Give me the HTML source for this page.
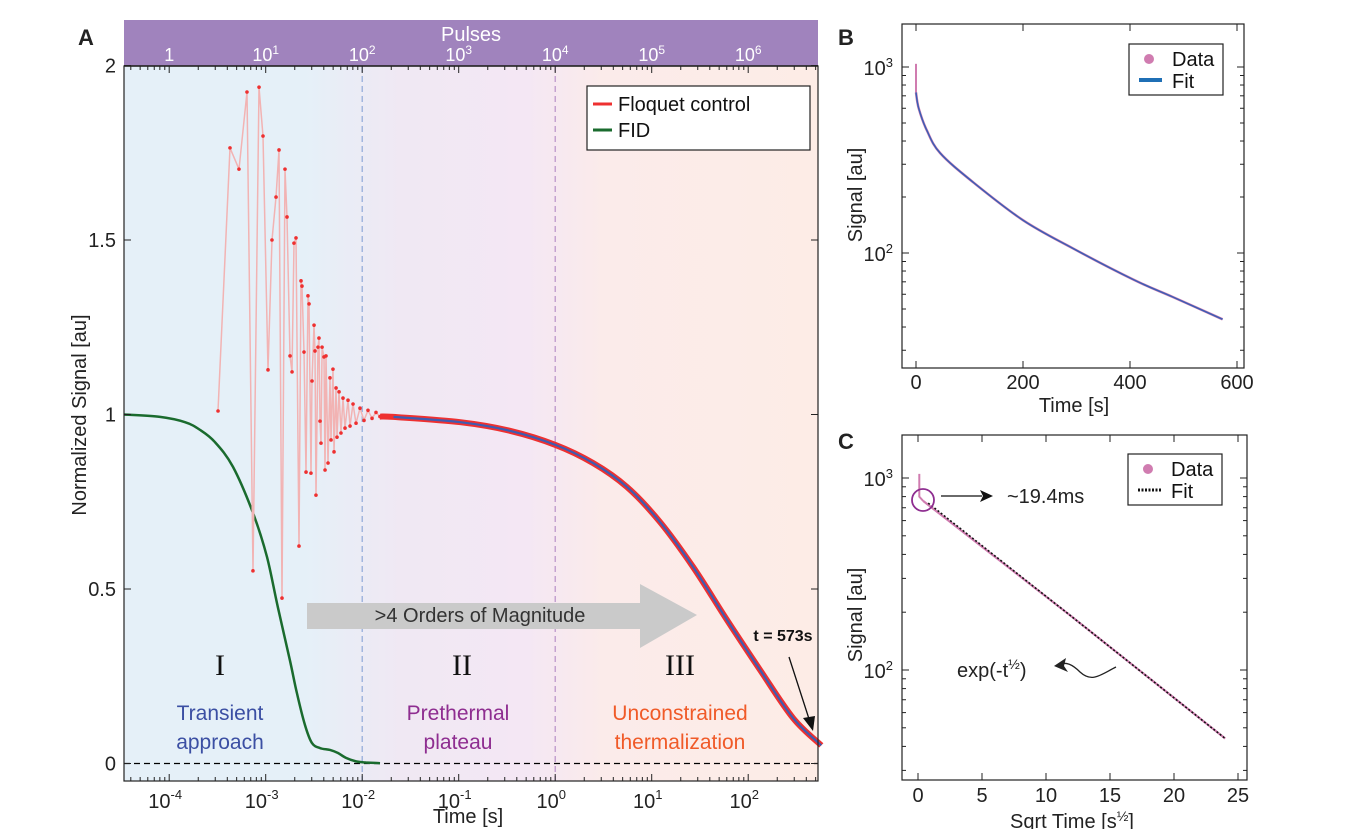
<!DOCTYPE html>
<html><head><meta charset="utf-8"><style>
html,body{margin:0;padding:0;background:#fff}
svg{display:block;font-family:"Liberation Sans",sans-serif}
</style></head><body>
<svg id="fig" width="1350" height="829" viewBox="0 0 1350 829" xmlns="http://www.w3.org/2000/svg">
<defs>
<linearGradient id="bgA" gradientUnits="userSpaceOnUse" x1="124" y1="0" x2="818" y2="0">
<stop offset="0" stop-color="#e5f0f8"/><stop offset="0.26" stop-color="#e5f0f8"/>
<stop offset="0.40" stop-color="#f0e8f3"/><stop offset="0.58" stop-color="#f4e7f4"/>
<stop offset="0.69" stop-color="#fbebea"/><stop offset="1" stop-color="#fdece6"/>
</linearGradient>
</defs>
<g id="panelA"></g>
<g id="panelB"></g>
<g id="panelC"></g>
</svg>
<script>
// ---- Panel A data ----
const floqLogT = [-3.494,-3.370,-3.277,-3.194,-3.132,-3.069,-3.028,-2.976,-2.935,-2.893,-2.862,-2.831,-2.800,-2.779,-2.748,-2.727,-2.707,-2.686,-2.655,-2.634,-2.624,-2.603,-2.582,-2.562,-2.551,-2.531,-2.520,-2.499,-2.489,-2.479,-2.458,-2.448,-2.437,-2.427,-2.416,-2.396,-2.385,-2.375,-2.354,-2.334,-2.323,-2.303,-2.292,-2.271,-2.261,-2.240,-2.220,-2.199,-2.178,-2.147,-2.126,-2.095,-2.064,-2.023,-1.981,-1.940,-1.898,-1.857,-1.816];
const floqVal = [1.010,1.764,1.703,1.924,0.552,1.938,1.798,1.128,1.500,1.623,1.758,0.474,1.703,1.566,1.168,1.122,1.491,1.506,0.623,1.383,1.368,1.179,0.835,1.340,1.317,0.832,1.096,1.256,1.182,0.769,1.193,1.219,0.981,0.918,1.193,1.165,0.841,1.168,0.861,1.105,0.927,1.130,0.893,1.076,0.935,1.065,0.947,1.047,0.961,1.041,0.967,1.030,0.975,1.018,0.983,1.012,0.989,1.006,0.994];
const decayLogT = [-1.816,-1.676,-0.982,-0.464,0.002,0.392,0.745,1.086,1.429,1.781,2.123,2.465,2.758];
const decayVal = [0.994,0.993,0.978,0.953,0.913,0.861,0.792,0.692,0.563,0.411,0.268,0.130,0.052];
const fidLogT = [-4.468,-4.095,-3.836,-3.681,-3.526,-3.339,-3.132,-2.987,-2.873,-2.750,-2.677,-2.593,-2.521,-2.437,-2.334,-2.251,-2.168,-2.064,-1.961,-1.816];
const fidVal = [1.000,0.993,0.978,0.956,0.921,0.850,0.718,0.592,0.446,0.297,0.202,0.110,0.059,0.044,0.039,0.030,0.016,0.006,0.003,0.001];
const aYTicks = [0,0.5,1,1.5,2];
const aYTickLabels = ["0","0.5","1","1.5","2"];
const aXDecades = [-4,-3,-2,-1,0,1,2];
const pulseDecades = [0,1,2,3,4,5,6];
// ---- Panel B data ----
const bTime = [0,5,20,45,107,200,293,406,480,573];
const bSignal = [730,600,458,345,240,150,106,72,58,44];
const bSpikeSignal = [1040,730];
const bXTicks = [0,200,400,600];
// ---- Panel C data ----
const cSqrtT = [0.4,12,24];
const cSignal = [760,190,44];
const cSpikeSqrtT = [0.1,0.1,0.4];
const cSpikeSignal = [1050,800,760];
const cXTicks = [0,5,10,15,20,25];

const NS='http://www.w3.org/2000/svg';
function mk(parent,tag,attrs,text){const e=document.createElementNS(NS,tag);for(const k in attrs)e.setAttribute(k,attrs[k]);if(text!==undefined)e.textContent=text;parent.appendChild(e);return e;}
function smooth(pts){
  let d='M'+pts[0][0].toFixed(1)+' '+pts[0][1].toFixed(1);
  for(let i=0;i<pts.length-1;i++){
    const p0=pts[Math.max(i-1,0)],p1=pts[i],p2=pts[i+1],p3=pts[Math.min(i+2,pts.length-1)];
    const c1x=p1[0]+(p2[0]-p0[0])/6,c1y=p1[1]+(p2[1]-p0[1])/6;
    const c2x=p2[0]-(p3[0]-p1[0])/6,c2y=p2[1]-(p3[1]-p1[1])/6;
    d+=' C'+c1x.toFixed(1)+' '+c1y.toFixed(1)+' '+c2x.toFixed(1)+' '+c2y.toFixed(1)+' '+p2[0].toFixed(1)+' '+p2[1].toFixed(1);
  }
  return d;
}

// ===== Panel A =====
const A=document.getElementById('panelA');
const AX0=124,AX1=818,AY0=66,AY1=781;
const ax=l=>362.2+(l+2)*96.5;
const ay=v=>763.5-v*349;
let r=mk(A,'rect',{x:AX0,y:AY0,width:AX1-AX0,height:AY1-AY0,fill:'url(#bgA)'});


let pb=mk(A,'rect',{x:AX0,y:20,width:AX1-AX0,height:46,fill:'#a083bd'});


let pt=mk(A,'text',{x:471,y:41,'font-size':20,fill:'#fff','text-anchor':'middle'},'Pulses');


pulseDecades.forEach(d=>{
  const x=ax(d-4);
  const t=mk(A,'text',{x:x,y:61,'font-size':18,fill:'#fff','text-anchor':'middle'});
  
  
  if(d===0){t.textContent='1';}else{mk(t,'tspan',{},'10');mk(t,'tspan',{dy:-7,'font-size':12},String(d));}
});
let d1=mk(A,'line',{x1:ax(-2),x2:ax(-2),y1:AY0,y2:AY1,stroke:'#8fa8d8','stroke-width':1.2,'stroke-dasharray':'6,4'});


let d2=mk(A,'line',{x1:ax(0),x2:ax(0),y1:AY0,y2:AY1,stroke:'#b890c8','stroke-width':1.2,'stroke-dasharray':'6,4'});


let z0=mk(A,'line',{x1:AX0,x2:AX1,y1:ay(0),y2:ay(0),stroke:'#000','stroke-width':1.2,'stroke-dasharray':'6,4'});


let ar=mk(A,'path',{d:'M307 603 L640 603 L640 584 L697 615 L640 648 L640 629 L307 629 Z',fill:'#cacaca'});


let at=mk(A,'text',{x:480,y:622,'font-size':20,fill:'#333','text-anchor':'middle'},'>4 Orders of Magnitude');


[['I',220,'region-i-numeral'],['II',462,'region-ii-numeral'],['III',680,'region-iii-numeral']].forEach(a=>{
  const t=mk(A,'text',{x:a[1],y:675,'font-size':30,'font-family':'Liberation Serif, serif',fill:'#111','text-anchor':'middle'},a[0]);
  
  
});
[['Transient','approach',220,'#3b4fa3','region-i-label'],['Prethermal','plateau',458,'#8e2d90','region-ii-label'],['Unconstrained','thermalization',680,'#f05a28','region-iii-label']].forEach(a=>{
  const t=mk(A,'text',{'font-size':21,fill:a[3],'text-anchor':'middle'});
  
  
  mk(t,'tspan',{x:a[2],y:720},a[0]);mk(t,'tspan',{x:a[2],y:749},a[1]);
});
let fl=mk(A,'path',{d:smooth(fidLogT.map((l,i)=>[ax(l),ay(fidVal[i])])),fill:'none',stroke:'#1a6b2e','stroke-width':2.5});


let op=floqLogT.map((l,i)=>ax(l).toFixed(1)+','+ay(floqVal[i]).toFixed(1)).join(' ');
let ol=mk(A,'polyline',{points:op,fill:'none',stroke:'#f2b3b3','stroke-width':1.5});


floqLogT.forEach((l,i)=>{
  const c=mk(A,'circle',{cx:ax(l),cy:ay(floqVal[i]),r:1.8,fill:'#ee3030'});
  
  
});
let dl=mk(A,'path',{d:smooth(decayLogT.map((l,i)=>[ax(l),ay(decayVal[i])])),fill:'none',stroke:'#ee3030','stroke-width':6,'stroke-linejoin':'round'});


let dfl=mk(A,'path',{d:smooth(decayLogT.slice(1).map((l,i)=>[ax(l),ay(decayVal[i+1])])),fill:'none',stroke:'#3f5cb0','stroke-width':2.2});


let ta=mk(A,'text',{x:783,y:641,'font-size':16,'font-weight':'bold',fill:'#111','text-anchor':'middle'},'t = 573s');


let tl=mk(A,'line',{x1:789,y1:657,x2:810,y2:722,stroke:'#111','stroke-width':1.3});


mk(A,'path',{d:'M813 731 L803 718 L815 716 Z',fill:'#111'});
let fr=mk(A,'rect',{x:AX0,y:AY0,width:AX1-AX0,height:AY1-AY0,fill:'none',stroke:'#222','stroke-width':1.2});


mk(A,'line',{x1:AX0,x2:AX1,y1:AY0,y2:AY0,stroke:'#222','stroke-width':1.5});
aYTicks.forEach((v,i)=>{
  const y=ay(v);
  mk(A,'line',{x1:AX0,x2:AX0+7,y1:y,y2:y,stroke:'#222'});
  mk(A,'line',{x1:AX1,x2:AX1-7,y1:y,y2:y,stroke:'#222'});
  const t=mk(A,'text',{x:116,y:y+7,'font-size':20,fill:'#222','text-anchor':'end'},aYTickLabels[i]);
  
  
});
for(let d=-5;d<=2;d++){for(let m=1;m<10;m++){const x=ax(d+Math.log10(m));if(x<AX0||x>AX1)continue;const L=m===1?7:4;
  mk(A,'line',{x1:x,x2:x,y1:AY1,y2:AY1-L,stroke:'#222'});
  mk(A,'line',{x1:x,x2:x,y1:AY0,y2:AY0+L,stroke:'#222'});}}
aXDecades.forEach(d=>{
  const t=mk(A,'text',{x:ax(d)-4,y:808,'font-size':20,fill:'#222','text-anchor':'middle'});
  
  
  mk(t,'tspan',{},'10');mk(t,'tspan',{dy:-9,'font-size':13},String(d));
});
let xt=mk(A,'text',{x:468,y:823,'font-size':20,fill:'#222','text-anchor':'middle'},'Time [s]');


let yt=mk(A,'text',{x:0,y:0,'font-size':20,fill:'#222','text-anchor':'middle',transform:'translate(86,415) rotate(-90)'},'Normalized Signal [au]');


let la=mk(A,'text',{x:78,y:45,'font-size':22,'font-weight':'bold',fill:'#222'},'A');


let lg=mk(A,'g',{});


mk(lg,'rect',{x:587,y:86,width:223,height:64,fill:'#fff',stroke:'#222','stroke-width':1.2});
mk(lg,'line',{x1:593,x2:612,y1:104,y2:104,stroke:'#ee3030','stroke-width':3});
let le1=mk(lg,'text',{x:618,y:111,'font-size':20,fill:'#111'},'Floquet control');


mk(lg,'line',{x1:593,x2:612,y1:130,y2:130,stroke:'#1a6b2e','stroke-width':3});
let le2=mk(lg,'text',{x:618,y:137,'font-size':20,fill:'#111'},'FID');



// ===== Panel B =====
const B=document.getElementById('panelB');
const BX0=902,BX1=1244,BY0=24,BY1=368;
const bx=t=>916+t*0.535;
const by=v=>253-(Math.log10(v)-2)*186;
let bf=mk(B,'rect',{x:BX0,y:BY0,width:BX1-BX0,height:BY1-BY0,fill:'#fff',stroke:'#222','stroke-width':1.2});


for(let d=1;d<=3;d++){for(let m=1;m<10;m++){const y=by(m*Math.pow(10,d));if(y<BY0||y>BY1)continue;const L=m===1?7:4;
  mk(B,'line',{x1:BX0,x2:BX0+L,y1:y,y2:y,stroke:'#222'});mk(B,'line',{x1:BX1,x2:BX1-L,y1:y,y2:y,stroke:'#222'});}}
[2,3].forEach(d=>{const t=mk(B,'text',{x:893,y:by(Math.pow(10,d))+8,'font-size':20,fill:'#222','text-anchor':'end'});
  
  
  mk(t,'tspan',{},'10');mk(t,'tspan',{dy:-8,'font-size':13},String(d));});
bXTicks.forEach(v=>{const x=bx(v);mk(B,'line',{x1:x,x2:x,y1:BY1,y2:BY1-7,stroke:'#222'});mk(B,'line',{x1:x,x2:x,y1:BY0,y2:BY0+7,stroke:'#222'});
  const t=mk(B,'text',{x:x,y:389,'font-size':20,fill:'#222','text-anchor':'middle'},String(v));
  
  });
let bs=mk(B,'line',{x1:bx(0),x2:bx(0),y1:by(bSpikeSignal[0]),y2:by(bSpikeSignal[1]),stroke:'#d07cb0','stroke-width':2});


const bPts=bTime.map((t,i)=>[bx(t),by(bSignal[i])]);
let bl=mk(B,'path',{d:smooth(bPts),fill:'none',stroke:'#d07cb0','stroke-width':2.5});


let bfit=mk(B,'path',{d:smooth(bPts),fill:'none',stroke:'#3a5fb5','stroke-width':1.5});


let bxt=mk(B,'text',{x:1074,y:412,'font-size':20,fill:'#222','text-anchor':'middle'},'Time [s]');


let byt=mk(B,'text',{x:0,y:0,'font-size':20,fill:'#222','text-anchor':'middle',transform:'translate(862,195) rotate(-90)'},'Signal [au]');


let lb=mk(B,'text',{x:838,y:45,'font-size':22,'font-weight':'bold',fill:'#222'},'B');


let blg=mk(B,'g',{});


mk(blg,'rect',{x:1129,y:44,width:94,height:51,fill:'#fff',stroke:'#222','stroke-width':1.2});
mk(blg,'circle',{cx:1149,cy:59,r:5,fill:'#d07cb0'});
mk(blg,'text',{x:1172,y:66,'font-size':20,fill:'#111'},'Data');
mk(blg,'line',{x1:1139,x2:1162,y1:80,y2:80,stroke:'#1f6fb5','stroke-width':4});
mk(blg,'text',{x:1172,y:88,'font-size':20,fill:'#111'},'Fit');

// ===== Panel C =====
const C=document.getElementById('panelC');
const CX0=902,CX1=1247,CY0=435,CY1=780;
const cx=s=>918+s*12.8;
const cy=v=>478+(3-Math.log10(v))*192;
let cf=mk(C,'rect',{x:CX0,y:CY0,width:CX1-CX0,height:CY1-CY0,fill:'#fff',stroke:'#222','stroke-width':1.2});


for(let d=1;d<=3;d++){for(let m=1;m<10;m++){const y=cy(m*Math.pow(10,d));if(y<CY0||y>CY1)continue;const L=m===1?7:4;
  mk(C,'line',{x1:CX0,x2:CX0+L,y1:y,y2:y,stroke:'#222'});mk(C,'line',{x1:CX1,x2:CX1-L,y1:y,y2:y,stroke:'#222'});}}
[2,3].forEach(d=>{const t=mk(C,'text',{x:893,y:cy(Math.pow(10,d))+8,'font-size':20,fill:'#222','text-anchor':'end'});
  
  
  mk(t,'tspan',{},'10');mk(t,'tspan',{dy:-8,'font-size':13},String(d));});
cXTicks.forEach(v=>{const x=cx(v);mk(C,'line',{x1:x,x2:x,y1:CY1,y2:CY1-7,stroke:'#222'});mk(C,'line',{x1:x,x2:x,y1:CY0,y2:CY0+7,stroke:'#222'});
  const t=mk(C,'text',{x:x,y:802,'font-size':20,fill:'#222','text-anchor':'middle'},String(v));
  
  });
let cs=mk(C,'polyline',{points:cSpikeSqrtT.map((s,i)=>cx(s).toFixed(1)+','+cy(cSpikeSignal[i]).toFixed(1)).join(' '),fill:'none',stroke:'#d07cb0','stroke-width':2});


let cl=mk(C,'polyline',{points:cSqrtT.map((s,i)=>cx(s).toFixed(1)+','+cy(cSignal[i]).toFixed(1)).join(' '),fill:'none',stroke:'#d07cb0','stroke-width':2.2});


let cfit=mk(C,'polyline',{points:cSqrtT.map((s,i)=>cx(Math.max(s,0.8)).toFixed(1)+','+cy(i===0?740:cSignal[i]).toFixed(1)).join(' '),fill:'none',stroke:'#111','stroke-width':1.6,'stroke-dasharray':'2,2'});


let cc=mk(C,'circle',{cx:923,cy:500,r:11,fill:'none',stroke:'#8e2d90','stroke-width':1.8});


mk(C,'line',{x1:941,x2:982,y1:496,y2:496,stroke:'#111','stroke-width':1.3});
mk(C,'path',{d:'M993 496 L980 490 L983 496 L980 502 Z',fill:'#111'});
let ct=mk(C,'text',{x:1007,y:503,'font-size':20,fill:'#222'},'~19.4ms');


let ce=mk(C,'text',{x:957,y:677,'font-size':20,fill:'#222'});


mk(ce,'tspan',{},'exp(-t');mk(ce,'tspan',{dy:-8,'font-size':14},'½');mk(ce,'tspan',{dy:8},')');
mk(C,'path',{d:'M1116 667 C1100 675 1092 683 1080 672 C1072 664 1066 662 1060 664',fill:'none',stroke:'#222','stroke-width':1.3});
mk(C,'path',{d:'M1054 666 L1066 658 L1064 666 L1068 672 Z',fill:'#222'});
let cxt=mk(C,'text',{x:1072,y:828,'font-size':20,fill:'#222','text-anchor':'middle'});


mk(cxt,'tspan',{},'Sqrt Time [s');mk(cxt,'tspan',{dy:-7,'font-size':14},'½');mk(cxt,'tspan',{dy:7},']');
let cyt=mk(C,'text',{x:0,y:0,'font-size':20,fill:'#222','text-anchor':'middle',transform:'translate(862,615) rotate(-90)'},'Signal [au]');


let lc=mk(C,'text',{x:838,y:449,'font-size':22,'font-weight':'bold',fill:'#222'},'C');


let clg=mk(C,'g',{});


mk(clg,'rect',{x:1128,y:454,width:94,height:51,fill:'#fff',stroke:'#222','stroke-width':1.2});
mk(clg,'circle',{cx:1148,cy:469,r:5,fill:'#d07cb0'});
mk(clg,'text',{x:1171,y:476,'font-size':20,fill:'#111'},'Data');
mk(clg,'line',{x1:1138,x2:1161,y1:490,y2:490,stroke:'#111','stroke-width':3,'stroke-dasharray':'2,1.5'});
mk(clg,'text',{x:1171,y:498,'font-size':20,fill:'#111'},'Fit');
</script>
</body></html>
